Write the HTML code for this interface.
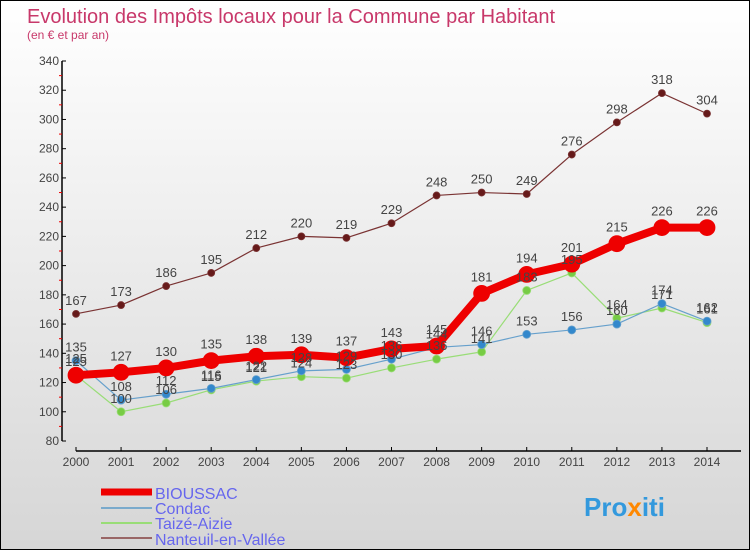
<!DOCTYPE html>
<html><head><meta charset="utf-8"><style>
html,body{margin:0;padding:0}
body{width:750px;height:550px;overflow:hidden;font-family:"Liberation Sans","DejaVu Sans",sans-serif}
#wrap{position:relative;width:748px;height:548px;border:1px solid #000;background:linear-gradient(#ffffff,#d6d6d6)}
</style></head><body>
<div id="wrap">
<svg id="chart" width="748" height="548" style="position:absolute;left:0;top:0">
<text x="26" y="22" font-size="20" fill="#c8386a">Evolution des Impôts locaux pour la Commune par Habitant</text>
<text x="26" y="38" font-size="12" fill="#c8386a">(en € et par an)</text>
<g id="axes"></g><g id="series"></g><g id="labels"></g>
<g>
<line x1="100" y1="491" x2="151" y2="491" stroke="#e00" stroke-width="7"/>
<text x="154" y="498" font-size="16" fill="#6666ee">BIOUSSAC</text>
<line x1="100" y1="507" x2="151" y2="507" stroke="#7aaacc" stroke-width="2"/>
<text x="154" y="513" font-size="16" fill="#6666ee">Condac</text>
<line x1="100" y1="522" x2="151" y2="522" stroke="#99dd77" stroke-width="2"/>
<text x="154" y="528" font-size="16" fill="#6666ee">Taizé-Aizie</text>
<line x1="100" y1="537" x2="151" y2="537" stroke="#996666" stroke-width="2"/>
<text x="154" y="544" font-size="16" fill="#6666ee">Nanteuil-en-Vallée</text>
</g>
<text x="583" y="515" font-size="26" font-weight="bold" fill="#3399dd">Pro<tspan fill="#ff8800">x</tspan>iti</text>
</svg>
</div>
<script>
const years=[2000,2001,2002,2003,2004,2005,2006,2007,2008,2009,2010,2011,2012,2013,2014];
const bioussac=[125,127,130,135,138,139,137,143,145,181,194,201,215,226,226];
const condac=[135,108,112,116,122,128,129,136,144,146,153,156,160,174,162];
const taize=[125,100,106,115,121,124,123,130,136,141,183,195,164,171,161];
const nanteuil=[167,173,186,195,212,220,219,229,248,250,249,276,298,318,304];
const yTicks=[80,100,120,140,160,180,200,220,240,260,280,300,320,340];

const NS="http://www.w3.org/2000/svg";
const X=i=>75+i*(631/14);
const Y=v=>440-(v-80)*(380/260);
function mk(tag,attrs,parent){const e=document.createElementNS(NS,tag);for(const k in attrs)e.setAttribute(k,attrs[k]);parent.appendChild(e);return e;}
const axes=document.getElementById('axes'),ser=document.getElementById('series'),lab=document.getElementById('labels');

let a=mk('line',{x1:61,y1:60,x2:61,y2:440,stroke:'#000','stroke-width':1.5},axes);


a=mk('line',{x1:75,y1:450,x2:740,y2:450,stroke:'#000','stroke-width':1.5},axes);


yTicks.forEach(v=>{
  const t=mk('line',{x1:61,y1:Y(v),x2:65,y2:Y(v),stroke:'#000'},axes);
  
  
  if(v<340){const m=mk('line',{x1:58,y1:Y(v+10),x2:61,y2:Y(v+10),stroke:'#e00'},axes);
  
  }
  const l=mk('text',{x:58,y:Y(v)+4,'text-anchor':'end','font-size':12,fill:'#444'},axes);
  l.textContent=v;
  
  
});
years.forEach((yr,i)=>{
  const t=mk('line',{x1:X(i),y1:446,x2:X(i),y2:450,stroke:'#000'},axes);
  
  
  const l=mk('text',{x:X(i),y:465,'text-anchor':'middle','font-size':12,fill:'#444'},axes);
  l.textContent=yr;
  
  
});
function draw(data,color,dot,w,r,name){
  const p=mk('polyline',{points:data.map((v,i)=>X(i)+','+Y(v)).join(' '),fill:'none',stroke:color,'stroke-width':w,'stroke-linejoin':'round'},ser);
  
  
  data.forEach((v,i)=>{
    const c=mk('circle',{cx:X(i),cy:Y(v),r:r,fill:dot,stroke:color,'stroke-width':0.8},ser);
    
    
    const l=mk('text',{x:X(i),y:Y(v)-9-(r>5?3:0),'text-anchor':'middle','font-size':13,fill:'#444'},lab);
    l.textContent=v;
    
    
  });
}
draw(nanteuil,'#7a3333','#661a1a',1.2,3.5,'nanteuil');
draw(taize,'#99dd77','#77cc44',1.2,4,'taize');
draw(condac,'#66a0cc','#3388cc',1.2,4,'condac');
draw(bioussac,'#ee0000','#ee0000',8,8,'bioussac');
</script>
</body></html>
